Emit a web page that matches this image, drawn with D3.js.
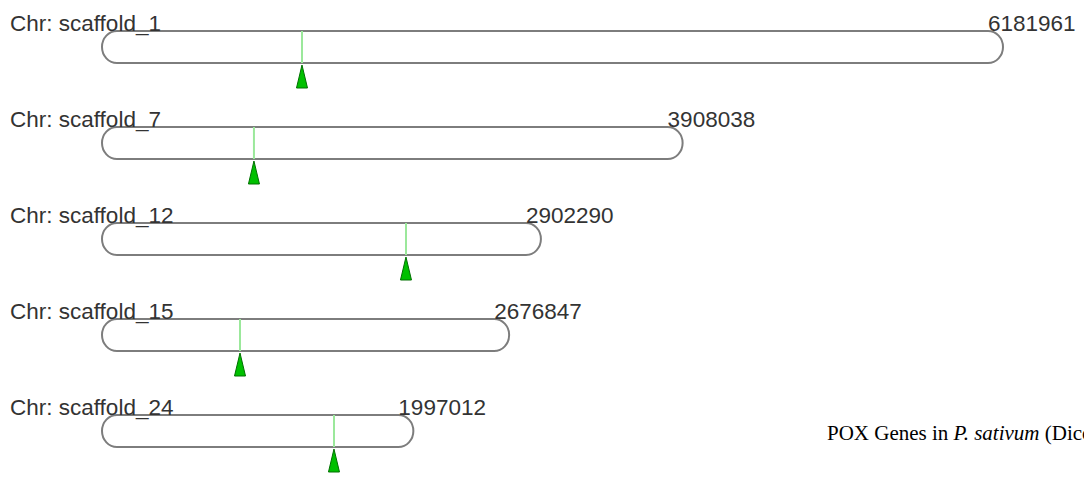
<!DOCTYPE html>
<html>
<head>
<meta charset="utf-8">
<script src="https://cdn.jsdelivr.net/npm/d3@7"></script>
<style>
  html, body { margin: 0; padding: 0; background: #fff; overflow: hidden; }
  svg { display: block; }
</style>
</head>
<body>
<script>
// ---- data ----
const chromosomes = ["scaffold_1", "scaffold_7", "scaffold_12", "scaffold_15", "scaffold_24"];
const chrLengths  = [6181961, 3908038, 2902290, 2676847, 1997012];
const genePositions = [1313000, 972000, 2051000, 873000, 1540000];
const titleParts = ["POX Genes in ", "P. sativum", " (Dicot)"];

const W = 1084, H = 477;
const svg = d3.select("body").append("svg").attr("width", W).attr("height", H);

const x = d3.scaleLinear().domain([0, d3.max(chrLengths)]).range([117, 988]);
const row = d3.scaleBand().domain(chromosomes).range([31, 31 + 96 * chromosomes.length]).paddingInner(0).align(0);

const barH = 32, capR = 15;

const rows = chromosomes.map((c, i) => ({ name: c, len: chrLengths[i], pos: genePositions[i] }));

const g = svg.selectAll("g.chr").data(rows).enter().append("g").attr("class", "chr")
  .attr("transform", d => `translate(0,${row(d.name)})`);

// chromosome body with rounded ends
g.append("path")
  .attr("d", d => {
    const x0 = x(0), x1 = x(d.len);
    return `M${x0},0 L${x1},0 A${capR},${barH/2} 0 0 1 ${x1},${barH} L${x0},${barH} A${capR},${barH/2} 0 0 1 ${x0},0 Z`;
  })
  .attr("fill", "none")
  .attr("stroke", "#7d7d7d")
  .attr("stroke-width", 2);

// gene line
g.append("line")
  .attr("x1", d => x(d.pos)).attr("x2", d => x(d.pos))
  .attr("y1", 0).attr("y2", barH)
  .attr("stroke", "#9be89b").attr("stroke-width", 2);

// gene triangle
g.append("path")
  .attr("d", d => {
    const cx = x(d.pos);
    return `M${cx},${barH + 2} L${cx - 5.5},${barH + 25} L${cx + 5.5},${barH + 25} Z`;
  })
  .attr("fill", "#00c000").attr("stroke", "#007000").attr("stroke-width", 1);

// chromosome label
g.append("text")
  .attr("x", 10).attr("y", 0)
  .attr("font-family", "Liberation Sans, Arial, sans-serif")
  .attr("font-size", 22.5)
  .attr("fill", "#333")
  .text(d => "Chr: " + d.name);

// length label
g.append("text")
  .attr("x", d => x(d.len)).attr("y", 0)
  .attr("font-family", "Liberation Sans, Arial, sans-serif")
  .attr("font-size", 22.5)
  .attr("fill", "#333")
  .text(d => d.len);

// title
const t = svg.append("text")
  .attr("x", 827).attr("y", 440)
  .attr("font-family", "Liberation Serif, Times New Roman, serif")
  .attr("font-size", 21)
  .attr("fill", "#000");
t.append("tspan").text(titleParts[0]);
t.append("tspan").attr("font-style", "italic").text(titleParts[1]);
t.append("tspan").text(titleParts[2]);
</script>
</body>
</html>
